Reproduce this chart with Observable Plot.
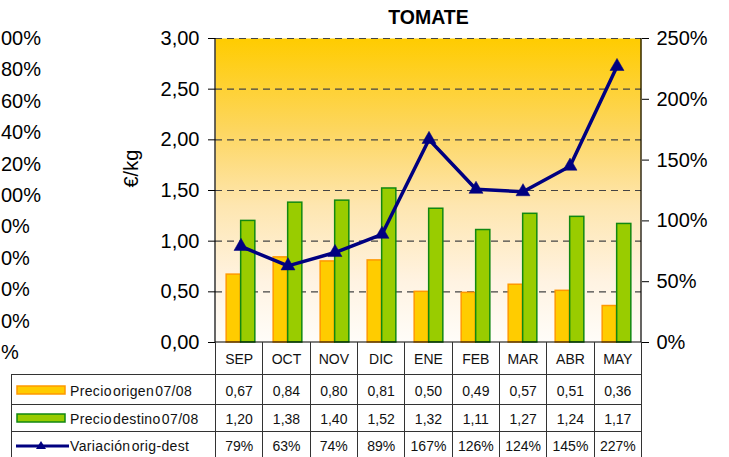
<!DOCTYPE html>
<html>
<head>
<meta charset="utf-8">
<script src="https://cdn.jsdelivr.net/npm/d3@7"></script>
<script src="https://cdn.jsdelivr.net/npm/@observablehq/plot@0.6"></script>
<style>
  html, body { margin: 0; padding: 0; background: #fff; }
  body { width: 729px; height: 457px; position: relative; overflow: hidden; font-family: "Liberation Sans", Arial, sans-serif; }
  #chart { position: absolute; left: 0; top: 0; }
  #tbl { position: absolute; left: 11px; top: 342px; border-collapse: collapse; table-layout: fixed; font-size: 14px; color: #111; }
  #tbl td { padding: 0; text-align: center; border: 1px solid #333; line-height: 1; white-space: nowrap; }
  #tbl td.blank { border: none; }
  #tbl tr.head td { border-top: none; height: 30px; padding-top: 2px; }
  #tbl td.leg { text-align: left; position: relative; }
  #tbl td.leg svg { position: absolute; left: 4px; top: 50%; margin-top: -6px; }
  #tbl td.leg span { position: absolute; left: 58px; top: 50%; margin-top: -6px; letter-spacing: 0.35px; word-spacing: -3px; }
</style>
</head>
<body>
<div id="chart"></div>
<table id="tbl"></table>
<script>
// ---- data ----
const months = ["SEP", "OCT", "NOV", "DIC", "ENE", "FEB", "MAR", "ABR", "MAY"];
const precioOrigen = [0.67, 0.84, 0.80, 0.81, 0.50, 0.49, 0.57, 0.51, 0.36];
const precioDestino = [1.20, 1.38, 1.40, 1.52, 1.32, 1.11, 1.27, 1.24, 1.17];
const variacion = [79, 63, 74, 89, 167, 126, 124, 145, 227];
const seriesNames = ["Precio origen 07/08", "Precio destino 07/08", "Variación orig-dest"];
const leftTicks = [0, 0.5, 1, 1.5, 2, 2.5, 3];
const rightTicksPct = [0, 50, 100, 150, 200, 250];
// visible parts of a neighbouring chart's axis, cut off at the left edge (200% … 0%)
const ghostTicksPct = [200, 180, 160, 140, 120, 100, 80, 60, 40, 20, 0];
const ghostLabels = ["00%", "80%", "60%", "40%", "20%", "00%", "0%", "0%", "0%", "0%", "%"];
const title = "TOMATE";
const yLabel = "€/kg";

// ---- helpers ----
const pctToEuro = p => p / 100 * (3 / 2.5);   // 250% aligns with 3,00
const comma2 = v => d3.format(".2f")(v).replace(".", ",");
const rows = months.map((m, i) => ({month: m, origen: precioOrigen[i], destino: precioDestino[i], variacion: variacion[i]}));
const ghost = ghostTicksPct.map((p, i) => ({p, label: ghostLabels[i]}));

const W = 729, H = 343, mL = 215, mR = 88, mT = 38, mB = 1;
const band = (W - mL - mR) / months.length;
const barW = 14.5;
const gap = band / 2 - barW;

const FONT = "'Liberation Sans', Arial, sans-serif";
const ORANGE = "#FFCC00", ORANGE_S = "#FF9900", GREEN = "#99CC00", GREEN_S = "#118811", NAVY = "#000080";

const axisLines = (index, {x, y}, values, dims) => {
  const g = d3.create("svg:g").attr("stroke", "#000").attr("stroke-width", 1.2);
  const l = dims.marginLeft, r = dims.width - dims.marginRight, t = dims.marginTop, b = y(0);
  g.append("line").attr("x1", l).attr("x2", l).attr("y1", t).attr("y2", b);
  g.append("line").attr("x1", r).attr("x2", r).attr("y1", t).attr("y2", b);
  g.append("line").attr("x1", l).attr("x2", r).attr("y1", b).attr("y2", b);
  return g.node();
};

const chart = Plot.plot({
  width: W, height: H,
  marginLeft: mL, marginRight: mR, marginTop: mT, marginBottom: mB,
  style: {fontFamily: FONT, fontSize: "20px", color: "#000", background: "transparent", overflow: "visible"},
  x: {type: "band", domain: months, padding: 0, axis: null},
  y: {domain: [0, 3], axis: null},
  marks: [
    Plot.frame({fill: "url(#bg)", stroke: "none"}),
    Plot.gridY(leftTicks.filter(d => d > 0), {stroke: "#444", strokeOpacity: 1, strokeWidth: 1.2, strokeDasharray: "7,5"}),
    Plot.barY(rows, {x: "month", y: "origen", fill: ORANGE, stroke: ORANGE_S, strokeWidth: 1.5, insetLeft: gap, insetRight: band / 2}),
    Plot.barY(rows, {x: "month", y: "destino", fill: GREEN, stroke: GREEN_S, strokeWidth: 1.5, insetLeft: band / 2, insetRight: gap}),
    axisLines,
    Plot.axisY(leftTicks, {anchor: "left", tickSize: 7, tickPadding: 9, fontSize: 20, tickFormat: comma2, label: null}),
    Plot.axisY(rightTicksPct.map(pctToEuro), {anchor: "right", tickSize: 7, tickPadding: 8, fontSize: 20,
      tickFormat: d => Math.round(d / 1.2 * 100) + "%", label: null}),
    Plot.line(rows, {x: "month", y: d => pctToEuro(d.variacion), stroke: NAVY, strokeWidth: 3.5}),
    Plot.dot(rows, {x: "month", y: d => pctToEuro(d.variacion), symbol: "triangle", r: 5.2, fill: NAVY, stroke: NAVY, strokeWidth: 0.5}),
    Plot.text([title], {frameAnchor: "top", dy: -21, lineAnchor: "middle", fontWeight: "bold", fontSize: 19.5}),
    Plot.text([yLabel], {frameAnchor: "left", dx: -84, dy: -3, rotate: -90, fontSize: 20}),
    Plot.text(ghost, {frameAnchor: "left", y: d => d.p / 200 * 3.1 - 0.1, text: "label", dx: -mL + 0.5, textAnchor: "start", fontSize: 20})
  ]
});

const defs = d3.select(chart).insert("defs", ":first-child");
const grad = defs.append("linearGradient").attr("id", "bg").attr("x1", 0).attr("y1", 0).attr("x2", 0).attr("y2", 1);
[[0, "#FFCC00"], [0.3, "#FDD65F"], [0.55, "#FEE6B0"], [0.8, "#FFF3E2"], [1, "#FFFDF9"]]
  .forEach(([o, c]) => grad.append("stop").attr("offset", o).attr("stop-color", c));

document.getElementById("chart").appendChild(chart);

// ---- data table ----
const tbl = d3.select("#tbl").style("width", (W - mR - 11) + "px");
const cg = tbl.append("colgroup");
cg.append("col").style("width", (mL - 11) + "px");
months.forEach(() => cg.append("col").style("width", band + "px"));

const head = tbl.append("tr").attr("class", "head");
head.append("td").attr("class", "blank");
months.forEach(m => head.append("td").text(m));

const swatch = (i) => {
  const s = d3.create("svg").attr("width", 54).attr("height", 12);
  if (i === 0) s.append("rect").attr("x", 1).attr("y", 2).attr("width", 48).attr("height", 8).attr("fill", ORANGE).attr("stroke", ORANGE_S).attr("stroke-width", 1.5);
  else if (i === 1) s.append("rect").attr("x", 1).attr("y", 2).attr("width", 48).attr("height", 8).attr("fill", GREEN).attr("stroke", GREEN_S).attr("stroke-width", 1.5);
  else {
    s.append("line").attr("x1", 0).attr("x2", 53).attr("y1", 7).attr("y2", 7).attr("stroke", NAVY).attr("stroke-width", 3);
    s.append("path").attr("d", "M25,2 L30,10 L20,10 Z").attr("fill", NAVY);
  }
  return s.node();
};

const series = [precioOrigen.map(comma2), precioDestino.map(comma2), variacion.map(v => v + "%")];
const heights = [30, 27, 26];
series.forEach((vals, i) => {
  const tr = tbl.append("tr").style("height", heights[i] + "px");
  const td = tr.append("td").attr("class", "leg");
  td.node().appendChild(swatch(i));
  td.append("span").text(seriesNames[i]);
  vals.forEach(v => tr.append("td").style("padding-top", "2px").text(v));
});
</script>
</body>
</html>
